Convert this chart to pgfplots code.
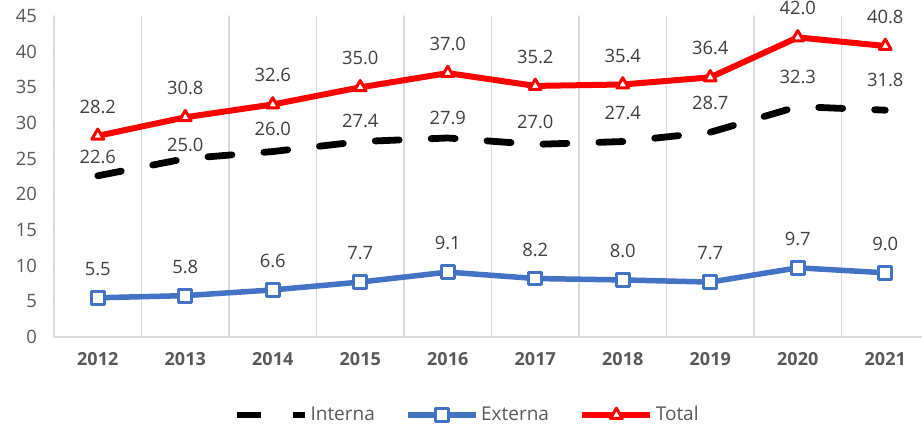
\documentclass[border=0pt]{standalone}
\usepackage{pgfplots}
\pgfplotsset{compat=1.18}
\usepackage{fontspec}
\setmainfont{Open Sans}

\definecolor{gridgray}{HTML}{D9D9D9}
\definecolor{txtgray}{HTML}{595959}
\definecolor{lblgray}{HTML}{404040}
\definecolor{extblue}{HTML}{4472C4}
\definecolor{totred}{HTML}{FF0000}

% x: 0 = 2012 ... 9 = 2021; dy = label offset above the point (pt)
\pgfplotstableread{
x y dy
0 22.6 9.5
1 25.0 7
2 26.0 11.5
3 27.4 10.5
4 27.9 10
5 27.0 11
6 27.4 14.5
7 28.7 14.5
8 32.3 15
9 31.8 15
}\interna

\pgfplotstableread{
x y
0 5.5
1 5.8
2 6.6
3 7.7
4 9.1
5 8.2
6 8.0
7 7.7
8 9.7
9 9.0
}\externa

\pgfplotstableread{
x y
0 28.2
1 30.8
2 32.6
3 35.0
4 37.0
5 35.2
6 35.4
7 36.4
8 42.0
9 40.8
}\total

\begin{document}
\begin{tikzpicture}
\begin{axis}[
  at={(0,0)}, anchor=south west,
  scale only axis, width=434pt, height=160.5pt,
  xmin=-0.5, xmax=9.42, ymin=0, ymax=45,
  clip=false,
  xtick={0,...,9},
  xticklabels={2012,2013,2014,2015,2016,2017,2018,2019,2020,2021},
  ytick={0,5,...,45},
  minor xtick={-0.5,0.5,...,8.5},
  xminorgrids,
  minor grid style={gridgray, line width=0.75pt},
  major tick length=0pt, minor tick length=0pt,
  axis x line*=bottom, axis y line*=left,
  x axis line style={gridgray, line width=0.75pt, -},
  y axis line style={draw=none},
  /pgf/number format/assume math mode=true,
  ticklabel style={font=\fontsize{9.2}{11}\selectfont, text=txtgray},
  xticklabel style={font=\fontsize{9}{11}\selectfont\bfseries, yshift=-4pt},
  yticklabel style={xshift=-5pt},
  legend style={at={(rel axis cs:0.476,-0.243)}, anchor=center, draw=none,
    fill=none, legend columns=3, font=\fontsize{9.5}{11}\selectfont,
    text=txtgray, nodes={inner xsep=1.2pt},
    /tikz/every even column/.append style={column sep=14pt}},
  legend image code/.code={
    \draw[mark repeat=2, mark phase=2, #1]
      plot coordinates {(0pt,0pt) (17pt,0pt) (34pt,0pt)};
  },
  nodes near coords={\pgfmathprintnumber[fixed, fixed zerofill, precision=1]{\pgfplotspointmeta}},
  every node near coord/.append style={anchor=center, text=lblgray,
    font=\fontsize{9.2}{11}\selectfont},
  line join=round, line cap=round,
]
\addplot[black, line width=3.4pt, dash pattern=on 12pt off 16pt,
  visualization depends on={\thisrow{dy}\as\dy},
  every node near coord/.append style={yshift=\dy pt}]
  table[x=x, y=y] {\interna};
\addlegendentry{Interna}

\addplot[extblue, line width=2.75pt, mark=square*,
  mark options={solid, fill=white, draw=extblue, line width=1.5pt},
  mark size=3.2pt,
  every node near coord/.append style={yshift=14.5pt}]
  table[x=x, y=y] {\externa};
\addlegendentry{Externa}

\addplot[totred, line width=3pt, mark=triangle*,
  mark options={solid, fill=white, draw=totred, line width=1.5pt},
  mark size=3.4pt,
  every node near coord/.append style={yshift=14.5pt}]
  table[x=x, y=y] {\total};
\addlegendentry{Total}
\end{axis}
\pgfresetboundingbox
\path[use as bounding box] (-27pt,-46pt) rectangle (434pt,168.5pt);
\end{tikzpicture}
\end{document}
